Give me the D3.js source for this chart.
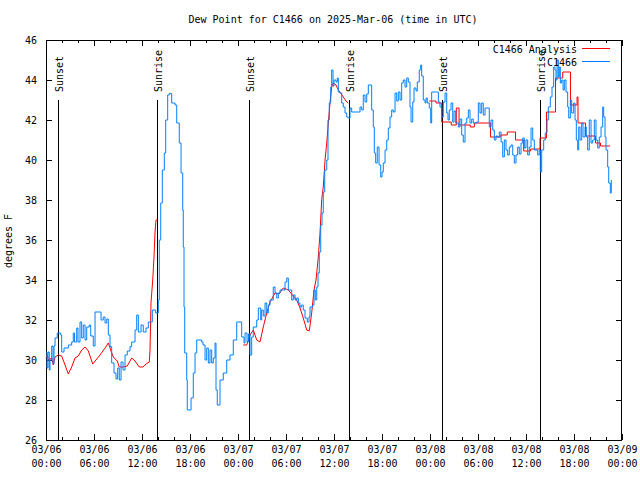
<!DOCTYPE html>
<html><head><meta charset="utf-8">
<script src="https://cdn.jsdelivr.net/npm/d3@7"></script>
<style>
body{margin:0;background:#fff;}
text{font-family:"DejaVu Sans Mono",monospace;font-size:10px;fill:#000;}
</style></head>
<body><svg id="c" width="640" height="480"></svg>
<script>
// ---- data (hours after 2025-03-06 00:00 UTC, dew point in degrees F) ----
const obsHours = [0.0,0.13,0.25,0.41,0.5,0.71,0.88,1.0,1.13,1.41,1.84,1.96,2.25,2.79,3.21,3.41,3.56,3.84,4.0,4.25,4.46,4.66,4.88,5.09,5.41,5.59,5.91,6.13,6.54,6.88,7.16,7.38,7.59,7.79,8.0,8.21,8.5,8.75,8.96,9.16,9.38,9.63,9.88,10.16,10.5,10.71,11.13,11.34,11.54,11.88,12.16,12.5,12.79,13.09,13.29,13.71,13.91,14.04,14.16,14.34,14.54,14.79,14.96,15.21,15.41,15.71,16.13,16.34,16.66,16.88,17.09,17.16,17.25,17.34,17.59,17.66,18.0,18.13,18.41,18.63,18.84,19.46,19.63,19.88,20.09,20.29,20.5,20.71,20.91,21.13,21.25,21.41,21.63,21.75,22.16,22.59,23.0,23.41,23.84,24.25,24.46,24.75,24.88,25.13,25.31,25.5,25.71,25.91,26.34,26.54,26.84,26.96,27.16,27.38,27.59,27.79,28.0,28.41,28.63,28.84,29.04,29.25,29.66,29.88,30.09,30.29,30.5,30.71,30.91,31.13,31.34,31.54,31.75,31.96,32.16,32.38,32.66,32.88,33.0,33.34,33.5,33.66,33.84,34.0,34.16,34.34,34.5,34.66,34.84,35.09,35.25,35.41,35.59,35.71,35.88,36.0,36.25,36.41,36.54,36.75,36.96,37.16,37.38,37.59,37.79,37.91,38.0,38.21,39.04,39.25,39.46,39.66,39.88,40.09,40.29,40.5,40.71,40.91,41.04,41.21,41.41,41.63,41.84,42.0,42.16,42.38,42.59,42.79,43.0,43.21,43.41,43.63,43.84,44.04,44.25,44.46,44.66,44.88,45.09,45.29,45.5,45.63,45.84,46.0,46.25,46.41,46.66,46.84,46.96,47.16,47.38,47.5,47.66,47.91,48.09,48.21,48.63,48.84,49.04,49.25,49.46,49.66,49.88,50.09,50.25,50.41,50.63,50.84,51.0,51.21,51.54,51.75,51.96,52.16,52.38,52.59,52.79,53.0,53.21,53.41,53.84,54.04,54.25,54.46,54.66,54.88,55.41,55.63,55.84,56.04,56.25,56.46,56.66,56.88,57.09,57.29,57.5,57.71,57.91,58.13,58.34,58.54,58.75,58.96,59.16,59.38,59.59,59.79,60.0,60.21,60.41,60.63,60.84,61.04,61.25,61.46,61.66,61.79,61.96,62.21,62.41,62.63,62.79,63.04,63.25,63.46,63.63,63.75,63.88,64.04,64.16,64.29,64.46,64.63,64.79,65.0,65.21,65.34,65.54,65.71,65.96,66.13,66.29,66.46,66.59,66.75,66.96,67.13,67.38,67.54,67.71,67.91,68.13,68.34,68.54,68.75,68.96,69.16,69.38,69.59,69.71,69.88,70.0,70.21,70.34,70.54,70.66];
const obsDew = [30.4,29.6,30.4,29.5,30.0,30.7,29.8,30.7,31.1,31.35,31.25,30.4,30.6,30.75,30.9,31.35,30.9,31.6,30.9,31.9,31.1,31.75,31.0,31.65,31.75,31.2,30.7,32.4,32.4,32.0,32.15,31.85,32.05,31.25,30.67,29.85,29.35,29.05,29.6,29.0,29.9,29.5,30.25,30.45,30.67,30.9,31.5,32.25,31.4,31.75,31.4,31.6,31.9,31.9,32.5,32.35,32.35,33.0,36.0,37.85,39.5,40.35,42.0,43.25,43.33,42.85,42.75,41.85,40.85,39.35,37.5,35.65,32.65,30.35,29.0,27.5,27.5,28.1,29.35,30.35,31.0,30.9,30.75,30.0,30.6,29.85,30.5,29.85,30.1,30.85,28.5,27.75,27.75,29.0,29.35,30.0,30.25,31.0,31.9,31.9,31.15,30.85,31.35,30.9,31.3,30.25,31.15,31.65,32.0,32.6,32.0,32.5,32.2,32.85,32.35,32.75,33.0,33.65,33.35,33.1,33.35,33.5,33.5,33.9,34.1,33.5,33.5,33.0,33.25,33.0,33.1,32.85,32.65,32.75,32.5,32.1,31.9,32.15,32.65,32.75,33.5,33.0,33.65,34.35,35.4,36.75,37.35,38.4,39.5,40.0,42.0,42.85,43.65,44.5,43.7,44.0,43.9,44.1,43.4,43.35,42.85,42.65,42.35,42.15,42.1,42.1,42.6,42.4,42.4,42.65,42.5,43.25,42.9,43.3,43.75,43.75,42.5,41.65,40.35,39.85,40.65,39.75,39.15,39.4,39.85,40.5,41.0,41.6,42.15,42.5,42.4,43.35,42.95,43.4,43.0,43.85,44.0,43.65,44.1,43.9,42.65,41.9,42.9,43.6,43.45,43.9,44.5,44.75,44.2,43.0,42.85,43.1,42.85,42.6,41.85,43.4,43.4,43.4,42.9,42.65,42.15,42.9,43.35,42.35,42.0,42.5,42.85,41.9,42.45,41.85,41.65,42.05,41.25,40.9,41.85,42.1,42.5,41.85,42.05,41.85,41.9,42.85,42.35,42.85,42.25,42.6,41.65,42.0,41.5,41.0,41.2,41.15,41.4,40.9,40.15,41.0,40.5,40.25,40.65,40.75,40.25,39.85,40.25,40.65,40.3,40.85,41.1,40.6,41.0,40.25,40.65,41.6,41.0,40.5,40.5,40.25,40.5,39.4,40.5,41.0,41.35,42.0,42.65,43.15,43.65,44.65,44.5,44.0,45.0,44.15,44.65,43.85,44.0,43.5,44.0,43.4,42.65,42.1,43.0,42.35,42.85,42.0,41.0,40.5,41.65,41.0,41.85,41.15,41.65,41.15,40.5,42.0,40.85,41.0,42.0,41.0,40.6,41.15,41.65,42.65,42.15,41.15,40.5,39.65,38.85,38.35,39.0];

// analysis, smooth part (null = gap)
const anaHours = [0.0,0.16,0.29,0.71,0.91,1.13,1.54,1.96,2.38,2.79,3.21,3.63,4.04,4.46,4.88,5.29,5.84,6.34,6.75,7.38,7.79,8.09,8.41,8.91,9.16,9.66,10.16,10.71,11.13,11.66,12.13,12.5,12.91,13.0,13.13,13.34,13.5,13.63,13.75,13.91,null,24.66,25.09,25.5,25.91,26.34,26.75,27.16,27.59,28.0,28.63,29.13,29.66,30.29,30.71,31.34,31.75,32.16,32.59,32.91,33.21,33.5,33.75,34.04,34.25,34.46,34.66,34.88,35.09,35.29,35.5,35.71,35.91,36.25,36.54,36.75,37.16,37.59,37.79];
const anaDew = [30.1,30.25,30.0,30.1,29.75,30.15,30.25,30.2,29.75,29.3,29.65,30.1,30.2,30.5,30.65,30.45,29.8,30.05,30.25,30.6,30.85,30.5,30.15,29.95,29.65,29.65,29.7,30.1,29.95,29.65,29.65,29.8,29.9,30.5,32.9,34.0,35.15,36.4,37.0,37.0,null,30.75,30.75,31.25,31.5,31.0,30.9,31.65,32.35,32.9,33.35,33.3,33.6,33.5,33.3,33.0,32.6,32.1,31.5,31.45,32.35,33.5,34.0,35.15,36.35,38.0,38.65,40.0,40.85,41.85,42.85,43.65,43.85,43.75,43.5,43.4,43.15,42.9,42.85];
// analysis, stepped part
const anaStepHours = [47.91,48.75,49.46,50.66,51.29,51.63,53.04,53.54,55.56,56.84,57.66,58.69,59.71,60.59,61.75,62.56,63.69,64.59,65.56,66.38,66.5,67.44,68.69,69.31,70.5];
const anaStepDew = [42.95,42.85,41.9,41.75,42.6,41.75,41.65,41.85,41.15,41.25,41.4,41.0,40.45,40.55,41.1,42.4,44.1,44.4,42.75,43.15,41.85,41.2,40.85,40.7,40.7];

const sunEvents = ["Sunset","Sunrise","Sunset","Sunrise","Sunset","Sunrise"];
const sunTimes = ["2025-03-06T01:27Z","2025-03-06T13:55Z","2025-03-07T01:25Z","2025-03-07T13:55Z","2025-03-08T01:28Z","2025-03-08T13:45Z"];
const yTicks = [26,28,30,32,34,36,38,40,42,44,46];
const titleText = "Dew Point for C1466 on 2025-Mar-06 (time in UTC)";
const yLabel = "degrees F";
const seriesNames = ["C1466 Analysis","C1466"];
const seriesColors = ["#ff0000","#0080ff"];

// ---- drawing ----
const L=46,R=621.5,T=40,B=440;
const t0 = Date.UTC(2025,2,6,0,0), t1 = Date.UTC(2025,2,9,0,0);
const H = 3600e3;
const x = d3.scaleUtc().domain([t0,t1]).range([L,622]);
const y = d3.scaleLinear().domain([26,46]).range([B,T]);
const svg = d3.select("#c");

svg.append("text").attr("x",333).attr("y",23).attr("text-anchor","middle").text(titleText);
svg.append("text").attr("transform","translate(12,241) rotate(-90)").attr("text-anchor","middle").text(yLabel);

const majorX = d3.range(0,73,6).map(h=>new Date(t0+h*H));
const minorX = d3.range(0,73,2).filter(h=>h%6!==0).map(h=>new Date(t0+h*H));

// bottom axis
const gb = svg.append("g").attr("transform",`translate(0,${B})`)
  .call(d3.axisBottom(x).tickValues(majorX).tickSize(-6).tickPadding(0).tickFormat(()=>""));
gb.select(".domain").remove();
gb.selectAll(".tick text").each(function(d){
  const t=d3.select(this).attr("y",null).attr("dy",null);
  t.append("tspan").attr("x",0).attr("y",13).text(d3.utcFormat("%m/%d")(d));
  t.append("tspan").attr("x",0).attr("y",27).text(d3.utcFormat("%H:%M")(d));
});
svg.append("g").attr("transform",`translate(0,${B})`)
  .call(d3.axisBottom(x).tickValues(minorX).tickSize(-3).tickFormat(()=>""))
  .select(".domain").remove();
// top axis
const gt = svg.append("g").attr("transform",`translate(0,${T})`)
  .call(d3.axisTop(x).tickValues(majorX).tickSize(-6).tickFormat(()=>""));
gt.select(".domain").remove();
svg.append("g").attr("transform",`translate(0,${T})`)
  .call(d3.axisTop(x).tickValues(minorX).tickSize(-3).tickFormat(()=>""))
  .select(".domain").remove();
// left / right axes
const gl = svg.append("g").attr("transform",`translate(${L},0)`)
  .call(d3.axisLeft(y).tickValues(yTicks).tickSize(-6).tickPadding(9).tickFormat(d3.format("d")));
gl.select(".domain").remove();
const gr = svg.append("g").attr("transform",`translate(${R},0)`)
  .call(d3.axisRight(y).tickValues(yTicks).tickSize(-6).tickFormat(()=>""));
gr.select(".domain").remove();
svg.selectAll(".tick line").attr("stroke","#000").attr("shape-rendering","crispEdges");
svg.selectAll(".tick text").style("font-family","DejaVu Sans Mono").style("font-size","10px").attr("fill","#000");

// border
svg.append("rect").attr("x",L+0.5).attr("y",T+0.5).attr("width",R-L-0.5).attr("height",B-T)
  .attr("fill","none").attr("stroke","#000").attr("shape-rendering","crispEdges");

// sunrise / sunset
sunTimes.forEach((s,i)=>{
  const xx = Math.round(x(new Date(s)))+0.5;
  svg.append("line").attr("x1",xx).attr("x2",xx).attr("y1",y(43)).attr("y2",B)
    .attr("stroke","#000").attr("shape-rendering","crispEdges");
  svg.append("text").attr("transform",`translate(${xx+0.5},${y(43.4)}) rotate(-90)`)
    .attr("dominant-baseline","central").attr("text-anchor","start").text(sunEvents[i]);
});

const toDate = h => new Date(t0 + h*H);
const line = d3.line().defined(d=>d[0]!==null&&d[1]!==null).x(d=>x(toDate(d[0]))).y(d=>y(d[1]));
const anaPts = anaHours.map((h,i)=>[h,anaDew[i]]);
svg.append("path").datum(anaPts).attr("d",line).attr("fill","none").attr("stroke",seriesColors[0]).attr("stroke-width",1);
const stepLine = d3.line().curve(d3.curveStepAfter).x(d=>x(toDate(d[0]))).y(d=>y(d[1]));
svg.append("path").datum(anaStepHours.map((h,i)=>[h,anaStepDew[i]])).attr("d",stepLine)
  .attr("fill","none").attr("stroke",seriesColors[0]).attr("stroke-width",1);
svg.append("path").datum(obsHours.map((h,i)=>[h,obsDew[i]])).attr("d",d3.line().curve(d3.curveStepAfter).x(d=>x(toDate(d[0]))).y(d=>y(d[1])))
  .attr("fill","none").attr("stroke",seriesColors[1]).attr("stroke-width",1);

// legend
seriesNames.forEach((n,i)=>{
  const yy = 53 + i*13;
  svg.append("text").attr("x",577).attr("y",yy).attr("text-anchor","end").text(n);
  svg.append("line").attr("x1",582).attr("x2",610).attr("y1",yy-4.5).attr("y2",yy-4.5)
    .attr("stroke",seriesColors[i]).attr("stroke-width",1);
});
</script></body></html>
